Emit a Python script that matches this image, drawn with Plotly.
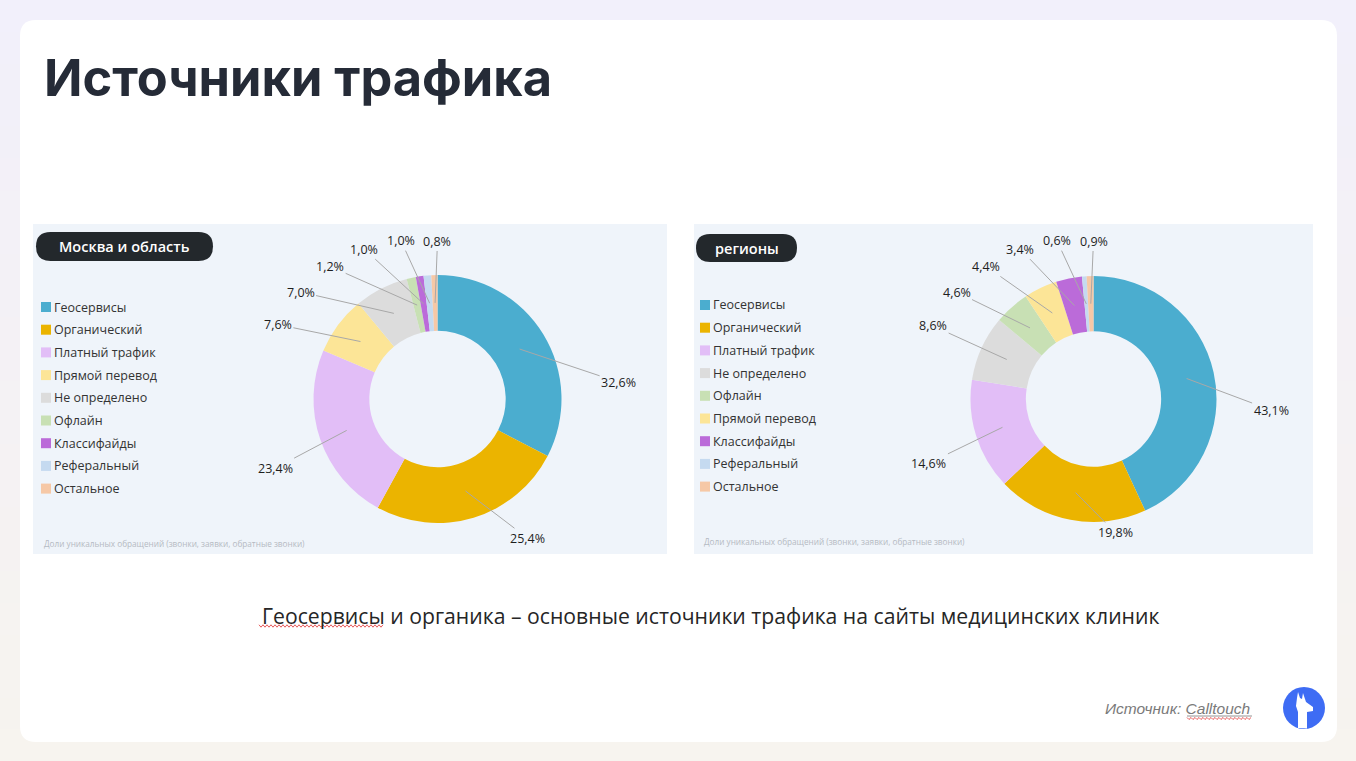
import math
import plotly.graph_objects as go

W, H = 1356, 761

# ---------------- data ----------------
moscow_categories = ["Геосервисы", "Органический", "Платный трафик", "Прямой перевод",
                     "Не определено", "Офлайн", "Классифайды", "Реферальный", "Остальное"]
moscow_values = [32.6, 25.4, 23.4, 7.6, 7.0, 1.2, 1.0, 1.0, 0.8]

regions_categories = ["Геосервисы", "Органический", "Платный трафик", "Не определено",
                      "Офлайн", "Прямой перевод", "Классифайды", "Реферальный", "Остальное"]
regions_values = [43.1, 19.8, 14.6, 8.6, 4.6, 4.4, 3.4, 0.6, 0.9]

chart_titles = ["Москва и область", "регионы"]
page_title = "Источники трафика"
conclusion = "Геосервисы и органика – основные источники трафика на сайты медицинских клиник"
footnote = "Доли уникальных обращений (звонки, заявки, обратные звонки)"
source_prefix = "Источник: "
source_name = "Calltouch"

# ---------------- style ----------------
COLORS = {
    "Геосервисы": "#4BADCF",
    "Органический": "#EBB400",
    "Платный трафик": "#E2BEF7",
    "Прямой перевод": "#FCE597",
    "Не определено": "#DCDCDC",
    "Офлайн": "#C8E0B4",
    "Классифайды": "#BB6BD9",
    "Реферальный": "#C5DAF0",
    "Остальное": "#F6C8A6",
}
PANEL_BG = "#EFF4FA"
LABEL_FONT = dict(family="Open Sans", size=12.5, color="#1E1E1E")
LEGEND_FONT = dict(family="Open Sans", size=12.5, color="#333333")
LINE_COLOR = "#A8A8A8"


def X(px):
    return px / W


def Y(py):
    return 1 - py / H


def rrect_path(x0, y0, x1, y1, r):
    pts = [
        ("M", x0 + r, y0), ("L", x1 - r, y0), ("Q", x1, y0, x1, y0 + r),
        ("L", x1, y1 - r), ("Q", x1, y1, x1 - r, y1), ("L", x0 + r, y1),
        ("Q", x0, y1, x0, y1 - r), ("L", x0, y0 + r), ("Q", x0, y0, x0 + r, y0),
    ]
    s = ""
    for p in pts:
        cmd = p[0]
        coords = p[1:]
        parts = []
        for i in range(0, len(coords), 2):
            parts.append(f"{X(coords[i]):.5f},{Y(coords[i+1]):.5f}")
        s += cmd + " ".join(parts) + " "
    return s + "Z"


def poly_path(points):
    s = "M" + " L".join(f"{X(x):.5f},{Y(y):.5f}" for x, y in points)
    return s + " Z"


shapes = []
annotations = []

# page background gradient (lavender -> warm)
top_c = (242, 240, 251)
bot_c = (247, 244, 239)
n_strips = 24
for i in range(n_strips):
    t = i / (n_strips - 1)
    c = tuple(int(top_c[k] + (bot_c[k] - top_c[k]) * t) for k in range(3))
    shapes.append(dict(type="rect", xref="paper", yref="paper", layer="below",
                       x0=0, x1=1, y0=Y(H * (i + 1) / n_strips + 1), y1=Y(H * i / n_strips),
                       line=dict(width=0), fillcolor=f"rgb{c}"))

# white card
shapes.append(dict(type="path", xref="paper", yref="paper", layer="below",
                   path=rrect_path(20, 20, 1337, 742, 16), fillcolor="white", line=dict(width=0)))

# title
annotations.append(dict(xref="paper", yref="paper", x=X(42), y=Y(78), xanchor="left", yanchor="middle",
                        text=page_title, showarrow=False,
                        font=dict(family="Inter", size=50.5, color="#252B37", weight=700)))

charts = [
    dict(cats=moscow_categories, vals=moscow_values, title=chart_titles[0],
         panel=(33, 224, 667, 554), center=(437.5, 399), r=124,
         pill=(36, 232, 213, 261), legend_x=41, legend_y=307, foot=(42, 543),
         nudge=[26, -16, -4, 0, 0, 0, 0, 0, 0],
         rnudge=[4, -3, 0, 0, 0, 0, 0, 0, 0]),
    dict(cats=regions_categories, vals=regions_values, title=chart_titles[1],
         panel=(694, 224, 1313, 554), center=(1093.5, 399), r=123,
         pill=(696, 234, 797, 262), legend_x=700, legend_y=305, foot=(702, 541),
         nudge=[16, -20, -4, 0, 0, 0, 0, 0, 0],
         rnudge=[0, -26, 0, 0, 0, 0, 0, 0, 0]),
]

HOLE = 0.55
SEP = 13
LEG_STEP = 22.7

traces = []
for ch in charts:
    px0, py0, px1, py1 = ch["panel"]
    shapes.append(dict(type="rect", xref="paper", yref="paper", layer="below",
                       x0=X(px0), x1=X(px1), y0=Y(py1), y1=Y(py0),
                       fillcolor=PANEL_BG, line=dict(width=0)))
    # pill title
    a0, b0, a1, b1 = ch["pill"]
    shapes.append(dict(type="path", xref="paper", yref="paper",
                       path=rrect_path(a0, b0, a1, b1, (b1 - b0) / 2),
                       fillcolor="#23282C", line=dict(width=0)))
    annotations.append(dict(xref="paper", yref="paper", x=X((a0 + a1) / 2), y=Y((b0 + b1) / 2),
                            text=ch["title"], showarrow=False, xanchor="center", yanchor="middle",
                            font=dict(family="Open Sans", size=14.5, color="white", weight=600)))
    # legend
    for i, c in enumerate(ch["cats"]):
        yy = ch["legend_y"] + i * LEG_STEP
        lx = ch["legend_x"]
        shapes.append(dict(type="rect", xref="paper", yref="paper",
                           x0=X(lx), x1=X(lx + 10), y0=Y(yy + 5), y1=Y(yy - 5),
                           fillcolor=COLORS[c], line=dict(width=0)))
        annotations.append(dict(xref="paper", yref="paper", x=X(lx + 11), y=Y(yy),
                                xanchor="left", yanchor="middle", text=c, showarrow=False,
                                font=LEGEND_FONT))
    # footnote
    annotations.append(dict(xref="paper", yref="paper", x=X(ch["foot"][0]), y=Y(ch["foot"][1]),
                            xanchor="left", yanchor="middle", text=footnote, showarrow=False,
                            font=dict(family="Open Sans", size=8.2, color="#B5BAC2")))
    # donut
    cx, cy = ch["center"]
    r = ch["r"]
    traces.append(go.Pie(
        values=ch["vals"], labels=ch["cats"], hole=HOLE, sort=False,
        direction="clockwise", rotation=0, textinfo="none",
        marker=dict(colors=[COLORS[c] for c in ch["cats"]], line=dict(width=0)),
        domain=dict(x=[X(cx - r), X(cx + r)], y=[Y(cy + r), Y(cy - r)]),
        showlegend=False, hovertemplate="%{label}: %{value}%<extra></extra>"))

    # data labels with leader lines
    total = sum(ch["vals"])
    mids = []
    cum = 0
    for v in ch["vals"]:
        mids.append((cum + v / 2) / total * 360)
        cum += v
    n = len(mids)
    ang = [0] * n
    ang[n - 1] = min(360, mids[n - 1] + 2)
    for i in range(n - 2, -1, -1):
        ang[i] = min(mids[i] + ch["nudge"][i], ang[i + 1] - SEP)
    r_anchor = r * (1 + HOLE) / 2
    for i, v in enumerate(ch["vals"]):
        m = math.radians(mids[i])
        axp = cx + r_anchor * math.sin(m)
        ayp = cy - r_anchor * math.cos(m)
        a = math.radians(ang[i])
        R = 158 + 20 * abs(math.sin(a)) + ch["rnudge"][i]
        lxp = cx + R * math.sin(a)
        lyp = cy - R * math.cos(a)
        txt = f"{v:.1f}".replace(".", ",") + "%"
        annotations.append(dict(xref="paper", yref="paper", x=X(axp), y=Y(ayp),
                                ax=lxp - axp, ay=lyp - ayp, axref="pixel", ayref="pixel",
                                text=txt, showarrow=True, arrowhead=0, arrowwidth=1,
                                arrowcolor=LINE_COLOR, standoff=0, startstandoff=0,
                                font=LABEL_FONT))

# conclusion text
annotations.append(dict(xref="paper", yref="paper", x=X(710), y=Y(615), xanchor="center",
                        yanchor="middle", text=conclusion, showarrow=False,
                        font=dict(family="Open Sans", size=21.2, color="#262626")))


# spell-check squiggles
def squiggle(x0, x1, y, amp=1.2, step=2.0):
    pts = []
    x = x0
    k = 0
    while x <= x1:
        pts.append((x, y + (amp if k % 2 else -amp)))
        x += step
        k += 1
    return "M" + " L".join(f"{X(a):.5f},{Y(b):.5f}" for a, b in pts)


shapes.append(dict(type="path", xref="paper", yref="paper", path=squiggle(259, 384, 626),
                   line=dict(color="#E03030", width=0.8)))

# source
annotations.append(dict(xref="paper", yref="paper", x=X(1252), y=Y(708), xanchor="right",
                        yanchor="middle", text=source_prefix + source_name, showarrow=False,
                        font=dict(family="Liberation Sans", size=15.5, color="#7A7A7A", style="italic")))
shapes.append(dict(type="line", xref="paper", yref="paper", x0=X(1187), x1=X(1252),
                   y0=Y(716), y1=Y(716), line=dict(color="#7A7A7A", width=0.8)))
shapes.append(dict(type="path", xref="paper", yref="paper", path=squiggle(1187, 1252, 718.5, amp=1.0),
                   line=dict(color="#E03030", width=0.8)))

# logo
lcx, lcy, lr = 1304, 708, 21
shapes.append(dict(type="circle", xref="paper", yref="paper",
                   x0=X(lcx - lr), x1=X(lcx + lr), y0=Y(lcy + lr), y1=Y(lcy - lr),
                   fillcolor="#3E6CF4", line=dict(width=0)))
llama = [(-6, 20), (-6, 4), (-8, -2), (-7, -10), (-6, -16), (-4, -10), (-2, -9), (-1, -15),
         (1, -9), (2, -6), (9, -1), (9, 3), (3, 4), (3, 20.5)]
shapes.append(dict(type="path", xref="paper", yref="paper",
                   path=poly_path([(lcx + a, lcy + b) for a, b in llama]),
                   fillcolor="white", line=dict(width=0)))

fig = go.Figure(data=traces)
fig.update_layout(width=W, height=H, autosize=False, margin=dict(l=0, r=0, t=0, b=0),
                  paper_bgcolor="#F4F2F6", plot_bgcolor="rgba(0,0,0,0)",
                  shapes=shapes, annotations=annotations, showlegend=False)
fig.write_html("out.html")
